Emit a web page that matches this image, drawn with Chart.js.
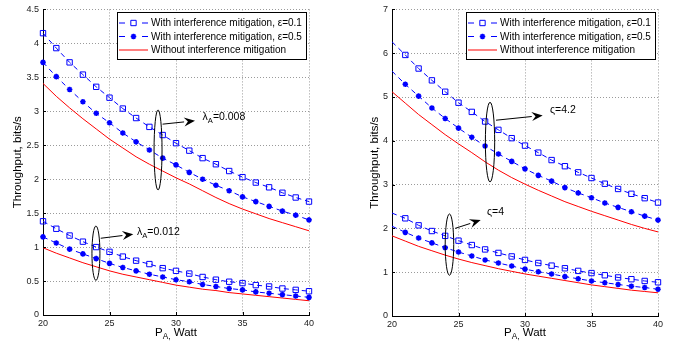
<!DOCTYPE html>
<html>
<head>
<meta charset="utf-8">
<script src="https://cdn.jsdelivr.net/npm/chart.js@4.4.0/dist/chart.umd.min.js"></script>
<style>
  body { margin: 0; background: #fff; }
  .pane { position: absolute; top: 0; width: 340px; height: 346px; }
</style>
</head>
<body>
<div class="pane" style="left:0"><canvas id="lambdaChart" width="340" height="346"></canvas></div>
<div class="pane" style="left:340px"><canvas id="varsigmaChart" width="340" height="346"></canvas></div>
<script>
const FONT = '"Liberation Sans", Arial, Helvetica, sans-serif';

// transmit power P_A, Watt
const powerW = [20, 21, 22, 23, 24, 25, 26, 27, 28, 29, 30, 31, 32, 33, 34, 35, 36, 37, 38, 39, 40];
const xTicks = [20, 25, 30, 35, 40];
const yTicksLambda = [0, 0.5, 1, 1.5, 2, 2.5, 3, 3.5, 4, 4.5];
const yTicksVarsigma = [0, 1, 2, 3, 4, 5, 6, 7];

const seriesLabels = [
  'With interference mitigation, \u03b5=0.1',
  'With interference mitigation, \u03b5=0.5',
  'Without interference mitigation'
];

// left panel, lambda_A = 0.008
const lam008Eps01 = [4.15, 3.93, 3.72, 3.54, 3.36, 3.20, 3.04, 2.90, 2.77, 2.65, 2.53, 2.42, 2.31, 2.22, 2.12, 2.03, 1.95, 1.88, 1.80, 1.73, 1.67];
const lam008Eps05 = [3.72, 3.51, 3.32, 3.14, 2.97, 2.83, 2.68, 2.55, 2.43, 2.31, 2.21, 2.10, 2.00, 1.91, 1.83, 1.74, 1.67, 1.60, 1.53, 1.47, 1.40];
const lam008NoMit = [3.41, 3.22, 3.05, 2.89, 2.74, 2.59, 2.46, 2.33, 2.22, 2.12, 2.02, 1.93, 1.83, 1.73, 1.64, 1.56, 1.49, 1.42, 1.36, 1.30, 1.24];
// left panel, lambda_A = 0.012
const lam012Eps01 = [1.38, 1.27, 1.17, 1.08, 1.00, 0.93, 0.86, 0.80, 0.75, 0.69, 0.65, 0.61, 0.56, 0.52, 0.49, 0.47, 0.44, 0.42, 0.39, 0.37, 0.35];
const lam012Eps05 = [1.15, 1.06, 0.97, 0.90, 0.83, 0.76, 0.70, 0.65, 0.60, 0.56, 0.52, 0.49, 0.45, 0.42, 0.39, 0.37, 0.34, 0.32, 0.30, 0.28, 0.26];
const lam012NoMit = [0.99, 0.91, 0.84, 0.77, 0.71, 0.65, 0.60, 0.56, 0.52, 0.48, 0.44, 0.41, 0.38, 0.36, 0.33, 0.31, 0.29, 0.27, 0.25, 0.23, 0.21];

// right panel, varsigma = 4.2
const vs42Eps01 = [6.26, 5.96, 5.65, 5.38, 5.12, 4.87, 4.66, 4.44, 4.25, 4.06, 3.89, 3.73, 3.56, 3.42, 3.28, 3.15, 3.02, 2.90, 2.79, 2.69, 2.59];
const vs42Eps05 = [5.59, 5.29, 5.02, 4.75, 4.51, 4.29, 4.08, 3.88, 3.70, 3.53, 3.36, 3.21, 3.08, 2.93, 2.81, 2.70, 2.58, 2.48, 2.38, 2.28, 2.19];
const vs42NoMit = [5.12, 4.86, 4.60, 4.37, 4.14, 3.93, 3.73, 3.52, 3.33, 3.16, 3.01, 2.87, 2.74, 2.61, 2.50, 2.39, 2.29, 2.19, 2.09, 2.00, 1.92];
// right panel, varsigma = 4
const vs4Eps01 = [2.35, 2.23, 2.07, 1.94, 1.83, 1.72, 1.62, 1.52, 1.44, 1.36, 1.28, 1.21, 1.15, 1.09, 1.03, 0.98, 0.93, 0.88, 0.84, 0.80, 0.77];
const vs4Eps05 = [2.05, 1.91, 1.78, 1.67, 1.56, 1.46, 1.37, 1.28, 1.21, 1.14, 1.07, 1.01, 0.96, 0.90, 0.85, 0.80, 0.76, 0.72, 0.68, 0.65, 0.61];
const vs4NoMit = [1.83, 1.71, 1.59, 1.49, 1.39, 1.30, 1.22, 1.15, 1.08, 1.02, 0.96, 0.91, 0.86, 0.81, 0.76, 0.71, 0.67, 0.63, 0.59, 0.56, 0.53];

function series(values, kind, label, skipFirst) {
  const base = {
    label: label,
    data: powerW.map((x, i) => ({ x: x, y: values[i] })),
    borderWidth: 1,
    tension: 0,
    clip: false,
    pointHoverRadius: 0
  };
  if (kind === 'none') {
    return Object.assign(base, { borderColor: '#ff0000', pointRadius: 0 });
  }
  const r = kind === 'eps01' ? 3.8 : 2.8;
  return Object.assign(base, {
    borderColor: '#0000ff',
    borderDash: [5, 4],
    pointStyle: kind === 'eps01' ? 'rect' : 'star',
    pointRadius: ctx => (skipFirst && ctx.dataIndex === 0) ? 0 : r,
    pointBorderColor: '#0000ff',
    pointBackgroundColor: kind === 'eps01' ? 'rgba(0,0,0,0)' : '#0000ff',
    pointBorderWidth: kind === 'eps01' ? 1 : 1.6
  });
}

// text with a subscript part: [[text, isSub], ...]
function drawRich(ctx, parts, x, y, size, align) {
  const widths = parts.map(p => {
    ctx.font = (p[1] ? size * 0.72 : size) + 'px ' + FONT;
    return ctx.measureText(p[0]).width;
  });
  const total = widths.reduce((a, b) => a + b, 0);
  let cx = align === 'center' ? x - total / 2 : x;
  ctx.textAlign = 'left';
  ctx.textBaseline = 'alphabetic';
  parts.forEach((p, i) => {
    ctx.font = (p[1] ? size * 0.72 : size) + 'px ' + FONT;
    ctx.fillText(p[0], cx, p[1] ? y + 3 : y);
    cx += widths[i];
  });
}

function drawLegend(chart) {
  const { ctx, chartArea: a } = chart;
  const items = chart.data.datasets.filter(d => d.label);
  ctx.font = '10px ' + FONT;
  const textW = Math.max(...items.map(d => ctx.measureText(d.label).width));
  const rowH = 13.5;
  const w = Math.round(34 + textW + 4), h = 47;
  const bx = Math.round(a.right - 3 - w), by = Math.round(a.top + 3);
  ctx.fillStyle = '#fff';
  ctx.fillRect(bx, by, w, h);
  ctx.strokeStyle = '#000';
  ctx.lineWidth = 1;
  ctx.strokeRect(bx + 0.5, by + 0.5, w, h);
  items.forEach((d, i) => {
    const cy = by + 11 + rowH * i;
    const sx = bx + 2;
    ctx.save();
    ctx.strokeStyle = d.borderColor;
    ctx.lineWidth = 1;
    ctx.beginPath();
    if (d.borderDash) {
      ctx.moveTo(sx, cy); ctx.lineTo(sx + 6, cy);
      ctx.moveTo(sx + 23, cy); ctx.lineTo(sx + 29, cy);
    } else {
      ctx.moveTo(sx, cy); ctx.lineTo(sx + 29, cy);
    }
    ctx.stroke();
    ctx.restore();
    if (d.pointStyle) {
      ctx.save();
      ctx.strokeStyle = d.pointBorderColor;
      ctx.fillStyle = d.pointBackgroundColor;
      ctx.lineWidth = d.pointBorderWidth;
      Chart.helpers.drawPoint(ctx, { pointStyle: d.pointStyle, radius: d.pointStyle === 'rect' ? 3.8 : 2.8, rotation: 0, borderWidth: d.pointBorderWidth }, sx + 14.5, cy);
      ctx.restore();
    }
    ctx.fillStyle = '#000';
    ctx.font = '10px ' + FONT;
    ctx.textAlign = 'left';
    ctx.textBaseline = 'middle';
    ctx.fillText(d.label, bx + 34, cy + 0.5);
  });
}

const panelDecor = {
  id: 'panelDecor',
  afterDraw(chart, args, opts) {
    const { ctx, chartArea: a, scales: { x, y } } = chart;
    ctx.save();
    // inward tick marks on the left and bottom axes
    ctx.strokeStyle = '#000';
    ctx.lineWidth = 1;
    ctx.beginPath();
    y.ticks.forEach(t => {
      const p = Math.round(y.getPixelForValue(t.value)) + 0.5;
      ctx.moveTo(a.left, p); ctx.lineTo(a.left + 3, p);
    });
    x.ticks.forEach(t => {
      const p = Math.round(x.getPixelForValue(t.value)) + 0.5;
      ctx.moveTo(p, a.bottom); ctx.lineTo(p, a.bottom - 3);
    });
    ctx.stroke();

    // x axis title with subscript
    ctx.fillStyle = '#000';
    drawRich(ctx, [['P', false], ['A,', true], [' Watt', false]], (a.left + a.right) / 2, 336, 11.5, 'center');

    // group markers: ellipse, arrow, label
    opts.notes.forEach(n => {
      const cx = x.getPixelForValue(n.at[0]), cy = y.getPixelForValue(n.at[1]);
      const rx = Math.abs(x.getPixelForValue(n.at[0] + n.half[0]) - cx);
      const ry = Math.abs(y.getPixelForValue(n.at[1] + n.half[1]) - cy);
      ctx.strokeStyle = '#000';
      ctx.lineWidth = 1;
      ctx.beginPath();
      ctx.ellipse(cx, cy, rx, ry, 0, 0, Math.PI * 2);
      ctx.stroke();

      const x1 = x.getPixelForValue(n.from[0]), y1 = y.getPixelForValue(n.from[1]);
      const x2 = x.getPixelForValue(n.to[0]), y2 = y.getPixelForValue(n.to[1]);
      const ang = Math.atan2(y2 - y1, x2 - x1);
      const hl = 11, hw = 4.5;
      const bxp = x2 - hl * Math.cos(ang), byp = y2 - hl * Math.sin(ang);
      ctx.beginPath();
      ctx.moveTo(x1, y1); ctx.lineTo(bxp, byp);
      ctx.stroke();
      ctx.fillStyle = '#000';
      ctx.beginPath();
      ctx.moveTo(x2, y2);
      ctx.lineTo(bxp + hw * Math.sin(ang), byp - hw * Math.cos(ang));
      ctx.lineTo(x2 - hl * 0.65 * Math.cos(ang), y2 - hl * 0.65 * Math.sin(ang));
      ctx.lineTo(bxp - hw * Math.sin(ang), byp + hw * Math.cos(ang));
      ctx.closePath();
      ctx.fill();

      ctx.fillStyle = '#000';
      drawRich(ctx, n.text, x.getPixelForValue(n.textAt[0]), y.getPixelForValue(n.textAt[1]), 10.5, 'left');
    });

    drawLegend(chart);
    ctx.restore();
  }
};

function makeChart(id, datasets, yTicks, yMax, lay, notes) {
  return new Chart(document.getElementById(id), {
    type: 'line',
    data: { datasets: datasets },
    plugins: [panelDecor],
    options: {
      responsive: false,
      animation: false,
      devicePixelRatio: 1,
      layout: { padding: { top: 9, right: lay.padRight, left: 0, bottom: 0 } },
      plugins: {
        legend: { display: false },
        tooltip: { enabled: false },
        panelDecor: { notes: notes }
      },
      scales: {
        x: {
          type: 'linear',
          min: 20,
          max: 40,
          afterBuildTicks: s => { s.ticks = xTicks.map(v => ({ value: v })); },
          afterFit: s => { s.height = lay.xHeight; },
          ticks: { font: { size: 9, family: FONT }, color: '#222', padding: 3, maxRotation: 0, callback: v => String(v) },
          grid: { color: '#9a9a9a', drawTicks: false, tickLength: 0 },
          border: { color: '#000', width: 1, dash: [1, 2] }
        },
        y: {
          type: 'linear',
          min: 0,
          max: yMax,
          afterBuildTicks: s => { s.ticks = yTicks.map(v => ({ value: v })); },
          afterFit: s => { s.width = lay.yWidth; },
          ticks: { font: { size: 9, family: FONT }, color: '#222', padding: 4, callback: v => String(v) },
          grid: { color: '#9a9a9a', drawTicks: false, tickLength: 0 },
          border: { color: '#000', width: 1, dash: [1, 2] },
          title: {
            display: true,
            text: 'Throughput, bits/s',
            color: '#000',
            font: { size: 11.5, family: FONT },
            padding: { top: lay.titlePad, bottom: 0 }
          }
        }
      }
    }
  });
}

makeChart('lambdaChart', [
  series(lam008Eps01, 'eps01', seriesLabels[0], false),
  series(lam008Eps05, 'eps05', seriesLabels[1], false),
  series(lam008NoMit, 'none', seriesLabels[2], false),
  series(lam012Eps01, 'eps01', '', false),
  series(lam012Eps05, 'eps05', '', false),
  series(lam012NoMit, 'none', '', false)
], yTicksLambda, 4.5, { padRight: 31, xHeight: 31, yWidth: 43, titlePad: 11 }, [
  { at: [28.65, 2.43], half: [0.3, 0.59], from: [28.99, 2.81], to: [31.43, 2.86],
    textAt: [32.0, 2.87], text: [['\u03bb', false], ['A', true], ['=0.008', false]] },
  { at: [23.98, 0.91], half: [0.3, 0.40], from: [24.34, 1.13], to: [26.79, 1.19],
    textAt: [27.07, 1.18], text: [['\u03bb', false], ['A', true], ['=0.012', false]] }
]);

makeChart('varsigmaChart', [
  series(vs42Eps01, 'eps01', seriesLabels[0], true),
  series(vs42Eps05, 'eps05', seriesLabels[1], true),
  series(vs42NoMit, 'none', seriesLabels[2], true),
  series(vs4Eps01, 'eps01', '', true),
  series(vs4Eps05, 'eps05', '', true),
  series(vs4NoMit, 'none', '', true)
], yTicksVarsigma, 7, { padRight: 22, xHeight: 30, yWidth: 52, titlePad: 28 }, [
  { at: [27.37, 3.97], half: [0.35, 0.91], from: [27.82, 4.47], to: [31.33, 4.58],
    textAt: [31.88, 4.63], text: [['\u03c2=4.2', false]] },
  { at: [24.32, 1.63], half: [0.32, 0.70], from: [24.74, 2.0], to: [26.67, 2.19],
    textAt: [27.14, 2.30], text: [['\u03c2=4', false]] }
]);
</script>
</body>
</html>
